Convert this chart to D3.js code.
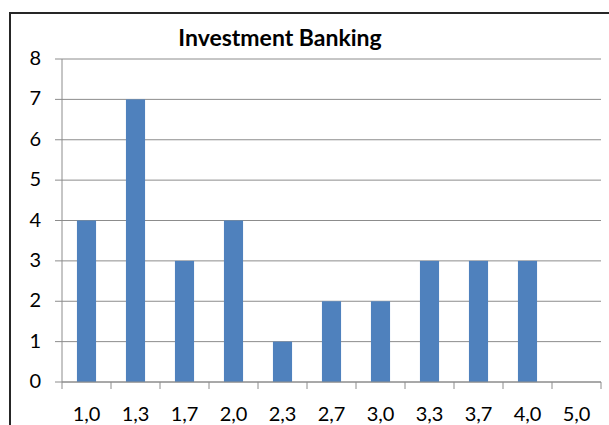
<!DOCTYPE html>
<html>
<head>
<meta charset="utf-8">
<script src="https://cdn.jsdelivr.net/npm/d3@7"></script>
<style>
  html, body { margin: 0; padding: 0; background: #fff; }
  svg { display: block; }
  text { font-family: Lato, "Open Sans", sans-serif; fill: #000; }
</style>
</head>
<body>
<svg id="chart" width="609" height="425"></svg>
<script>
const title = "Investment Banking";
const categories = ["1,0", "1,3", "1,7", "2,0", "2,3", "2,7", "3,0", "3,3", "3,7", "4,0", "5,0"];
const values = [4, 7, 3, 4, 1, 2, 2, 3, 3, 3, 0];
const yTicks = [0, 1, 2, 3, 4, 5, 6, 7, 8];

const W = 609, H = 425;
const plot = { left: 62, right: 601, top: 59, bottom: 382 };

const svg = d3.select("#chart");

// outer frame (top + left edges visible)
svg.append("path")
  .attr("d", `M10,${H} L10,13 L${W},13`)
  .attr("fill", "none")
  .attr("stroke", "#262626")
  .attr("stroke-width", 2);

const x = d3.scaleBand()
  .domain(categories)
  .range([plot.left, plot.right])
  .paddingInner(0.61)
  .paddingOuter(0.305);

const y = d3.scaleLinear()
  .domain([0, 8])
  .range([plot.bottom, plot.top]);

// gridlines
svg.append("g")
  .selectAll("line")
  .data(yTicks)
  .join("line")
  .attr("x1", plot.left - 7)
  .attr("x2", plot.right)
  .attr("y1", d => y(d))
  .attr("y2", d => y(d))
  .attr("stroke", "#8c8c8c")
  .attr("stroke-width", 1);

// y axis line
svg.append("line")
  .attr("x1", plot.left).attr("x2", plot.left)
  .attr("y1", y(8)).attr("y2", y(0))
  .attr("stroke", "#8c8c8c");

// bars
svg.append("g")
  .selectAll("rect")
  .data(values)
  .join("rect")
  .attr("x", (d, i) => x(categories[i]))
  .attr("width", x.bandwidth())
  .attr("y", d => y(d))
  .attr("height", d => y(0) - y(d))
  .attr("fill", "#4f81bd");

// x axis line + ticks at category boundaries
svg.append("line")
  .attr("x1", plot.left).attr("x2", plot.right)
  .attr("y1", y(0)).attr("y2", y(0))
  .attr("stroke", "#8c8c8c");

const boundaries = d3.range(categories.length + 1).map(i => x.range()[0] + i * x.step());
svg.append("g")
  .selectAll("line")
  .data(boundaries)
  .join("line")
  .attr("x1", d => d).attr("x2", d => d)
  .attr("y1", y(0)).attr("y2", y(0) + 7)
  .attr("stroke", "#8c8c8c");

// y labels
svg.append("g")
  .selectAll("text")
  .data(yTicks)
  .join("text")
  .attr("x", 41)
  .attr("y", d => y(d))
  .attr("dy", "0.3em")
  .attr("text-anchor", "end")
  .attr("font-size", 20)
  .text(d => d);

// x labels
svg.append("g")
  .selectAll("text")
  .data(categories)
  .join("text")
  .attr("x", d => x(d) + x.bandwidth() / 2)
  .attr("y", 421)
  .attr("text-anchor", "middle")
  .attr("font-size", 20)
  .text(d => d);

// title
svg.append("text")
  .attr("x", 280)
  .attr("y", 46)
  .attr("text-anchor", "middle")
  .attr("font-size", 23)
  .attr("font-weight", "bold")
  .text(title);
</script>
</body>
</html>
